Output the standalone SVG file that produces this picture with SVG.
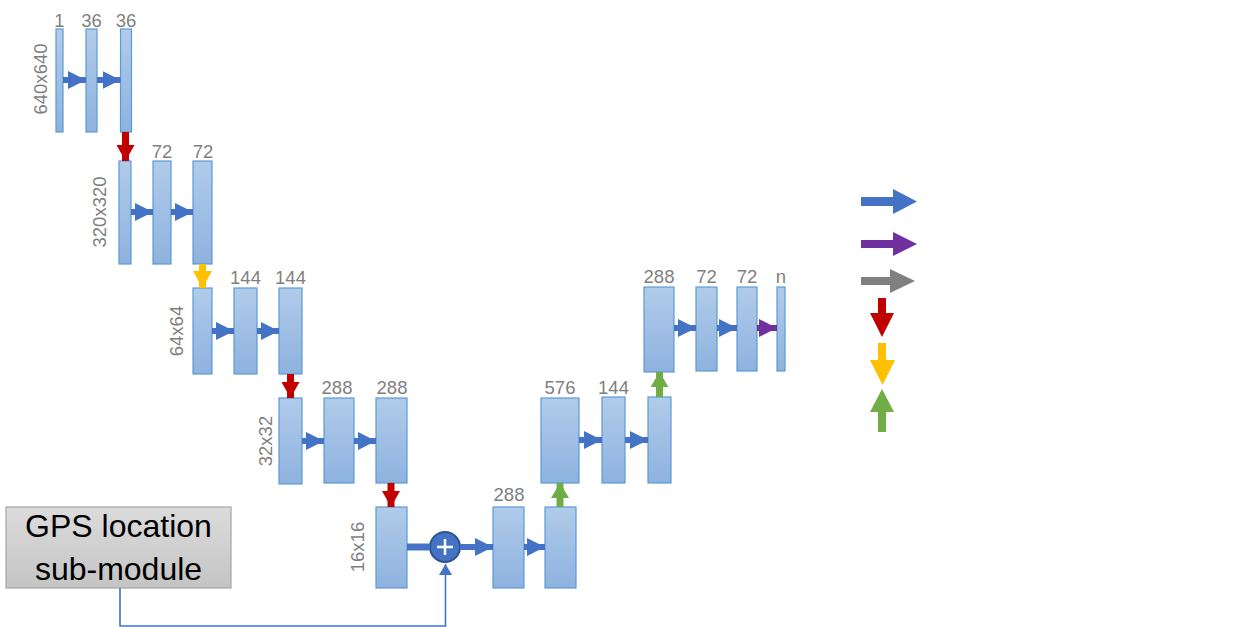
<svg xmlns="http://www.w3.org/2000/svg" width="1260" height="627" viewBox="0 0 1260 627">
<defs>
<linearGradient id="gb" x1="0" y1="0" x2="0" y2="1"><stop offset="0" stop-color="#b1cbea"/><stop offset="1" stop-color="#8eb2df"/></linearGradient>
<linearGradient id="gg" x1="0" y1="0" x2="0" y2="1"><stop offset="0" stop-color="#dcdcdc"/><stop offset="1" stop-color="#c4c4c4"/></linearGradient>
<marker id="mb" markerUnits="userSpaceOnUse" markerWidth="18" markerHeight="18" refX="18" refY="9" orient="auto"><path d="M0,0 L18,9 L0,18 z" fill="#4472c4"/></marker>
<marker id="mp" markerUnits="userSpaceOnUse" markerWidth="18" markerHeight="18" refX="18" refY="9" orient="auto"><path d="M0,0 L18,9 L0,18 z" fill="#7030a0"/></marker>
<marker id="mr" markerUnits="userSpaceOnUse" markerWidth="18" markerHeight="18" refX="16" refY="9" orient="auto"><path d="M0,0 L16,9 L0,18 z" fill="#c00000"/></marker>
<marker id="my" markerUnits="userSpaceOnUse" markerWidth="18" markerHeight="19" refX="17" refY="9.5" orient="auto"><path d="M0,0 L17,9.5 L0,19 z" fill="#ffc000"/></marker>
<marker id="mg" markerUnits="userSpaceOnUse" markerWidth="18" markerHeight="18" refX="15" refY="9" orient="auto"><path d="M0,0 L15,9 L0,18 z" fill="#70ad47"/></marker>
<marker id="mt" markerUnits="userSpaceOnUse" markerWidth="14" markerHeight="14" refX="11" refY="6.5" orient="auto"><path d="M0,0 L11,6.5 L0,13 z" fill="#4472c4"/></marker>
</defs>
<style>
.blk{fill:url(#gb);stroke:#5b9bd5;stroke-width:1.2}
.lbl{font-family:"Liberation Sans",Arial,sans-serif;font-size:18.5px;fill:#7f7f7f;text-anchor:middle}
.rl{font-family:"Liberation Sans",Arial,sans-serif;font-size:18.5px;fill:#7f7f7f;text-anchor:middle;dominant-baseline:central}
.ab{stroke:#4472c4;stroke-width:6;marker-end:url(#mb);fill:none}
.ap{stroke:#7030a0;stroke-width:6;marker-end:url(#mp);fill:none}
.ar{stroke:#c00000;stroke-width:7;marker-end:url(#mr);fill:none}
.ay{stroke:#ffc000;stroke-width:7;marker-end:url(#my);fill:none}
.ag{stroke:#70ad47;stroke-width:7;marker-end:url(#mg);fill:none}
.gps{font-family:"Liberation Sans",Arial,sans-serif;font-size:32px;fill:#000;text-anchor:middle}
</style>
<rect width="1260" height="627" fill="#fff"/>

<g id="row1">
<rect class="blk" x="56" y="29" width="7" height="103"/>
<rect class="blk" x="86" y="29" width="11" height="103"/>
<rect class="blk" x="120.5" y="29" width="11" height="103"/>
<text class="lbl" x="59.5" y="27">1</text>
<text class="lbl" x="91.5" y="27">36</text>
<text class="lbl" x="126" y="27">36</text>
<text class="rl" transform="translate(40,79) rotate(-90)">640x640</text>
</g>
<g id="row2">
<rect class="blk" x="119" y="161" width="12" height="103"/>
<rect class="blk" x="153" y="161" width="18" height="103"/>
<rect class="blk" x="193" y="161" width="19" height="103"/>
<text class="lbl" x="162" y="158">72</text>
<text class="lbl" x="203" y="158">72</text>
<text class="rl" transform="translate(99,212) rotate(-90)">320x320</text>
</g>
<g id="row3">
<rect class="blk" x="193" y="288" width="19" height="86"/>
<rect class="blk" x="234" y="288" width="23" height="86"/>
<rect class="blk" x="279" y="288" width="23" height="86"/>
<text class="lbl" x="245.5" y="284">144</text>
<text class="lbl" x="290.5" y="284">144</text>
<text class="rl" transform="translate(176,331) rotate(-90)">64x64</text>
</g>
<g id="row4">
<rect class="blk" x="279" y="398" width="23" height="86"/>
<rect class="blk" x="324" y="398" width="30" height="85"/>
<rect class="blk" x="376" y="398" width="31" height="85"/>
<text class="lbl" x="337" y="394">288</text>
<text class="lbl" x="392" y="394">288</text>
<text class="rl" transform="translate(265,441) rotate(-90)">32x32</text>
</g>
<g id="row5">
<rect class="blk" x="376" y="507" width="31" height="81"/>
<rect class="blk" x="493" y="507" width="31" height="81"/>
<rect class="blk" x="545" y="507" width="31" height="81"/>
<text class="lbl" x="509" y="501">288</text>
<text class="rl" transform="translate(357,547) rotate(-90)">16x16</text>
</g>
<g id="up1">
<rect class="blk" x="541" y="398" width="38" height="85"/>
<rect class="blk" x="602" y="397" width="23" height="86"/>
<rect class="blk" x="648" y="397" width="23" height="86"/>
<text class="lbl" x="560" y="394">576</text>
<text class="lbl" x="613.5" y="394">144</text>
</g>
<g id="up2">
<rect class="blk" x="644" y="287" width="30" height="85"/>
<rect class="blk" x="696" y="287" width="21" height="84"/>
<rect class="blk" x="737" y="287" width="20" height="84"/>
<rect class="blk" x="777" y="287" width="8" height="84"/>
<text class="lbl" x="659" y="283">288</text>
<text class="lbl" x="706.5" y="283">72</text>
<text class="lbl" x="747" y="283">72</text>
<text class="lbl" x="781" y="283">n</text>
</g>
<g id="gps">
<rect x="6" y="507" width="225" height="81" fill="url(#gg)" stroke="#a6a6a6" stroke-width="1.2"/>
<text class="gps" x="118.5" y="537">GPS location</text>
<text class="gps" x="118.5" y="580">sub-module</text>
</g>
<g id="plus">
<circle cx="445" cy="547" r="15" fill="#4472c4" stroke="#2f528f" stroke-width="2"/>
<path d="M437,547 H453 M445,539 V555" stroke="#fff" stroke-width="2.5"/>
</g>

<g id="connectors">
<line class="ab" x1="63" y1="80" x2="86" y2="80"/>
<line class="ab" x1="97" y1="80" x2="120.5" y2="80"/>
<line class="ab" x1="131" y1="212" x2="153" y2="212"/>
<line class="ab" x1="171" y1="212" x2="193" y2="212"/>
<line class="ab" x1="212" y1="331" x2="234" y2="331"/>
<line class="ab" x1="257" y1="331" x2="279" y2="331"/>
<line class="ab" x1="302" y1="441" x2="324" y2="441"/>
<line class="ab" x1="354" y1="441" x2="376" y2="441"/>
<line x1="407" y1="547" x2="430" y2="547" stroke="#4472c4" stroke-width="7"/>
<line class="ab" x1="460" y1="547" x2="493" y2="547"/>
<line class="ab" x1="524" y1="547" x2="545" y2="547"/>
<line class="ab" x1="579" y1="440" x2="602" y2="440"/>
<line class="ab" x1="625" y1="440" x2="648" y2="440"/>
<line class="ab" x1="674" y1="328" x2="696" y2="328"/>
<line class="ab" x1="717" y1="328" x2="737" y2="328"/>
<line class="ap" x1="757" y1="328" x2="777" y2="328"/>
<line class="ar" x1="125.5" y1="132" x2="125.5" y2="161"/>
<line class="ay" x1="202.5" y1="264" x2="202.5" y2="288"/>
<line class="ar" x1="290.5" y1="374" x2="290.5" y2="398"/>
<line class="ar" x1="391" y1="483" x2="391" y2="507"/>
<line class="ag" x1="560" y1="507" x2="560" y2="483"/>
<line class="ag" x1="659.5" y1="397" x2="659.5" y2="372"/>
<path d="M120,588 V626 H445.5 V564" fill="none" stroke="#4472c4" stroke-width="1.6" marker-end="url(#mt)"/>
</g>

<g id="legend">
<polygon points="861,197 893,197 893,189 917,201.5 893,214 893,206 861,206" fill="#4472c4"/>
<polygon points="861,240 893,240 893,232 917,244 893,256 893,248 861,248" fill="#7030a0"/>
<polygon points="861,277 890,277 890,269 915,281 890,293 890,285 861,285" fill="#808080"/>
<polygon points="878,298 886,298 886,313 894,313 882,337 870,313 878,313" fill="#c00000"/>
<polygon points="878,343 886,343 886,360 895,360 882.5,385 870,360 878,360" fill="#ffc000"/>
<polygon points="882,389 894,412 886,412 886,432 878,432 878,412 870,412" fill="#70ad47"/>
</g>
</svg>
